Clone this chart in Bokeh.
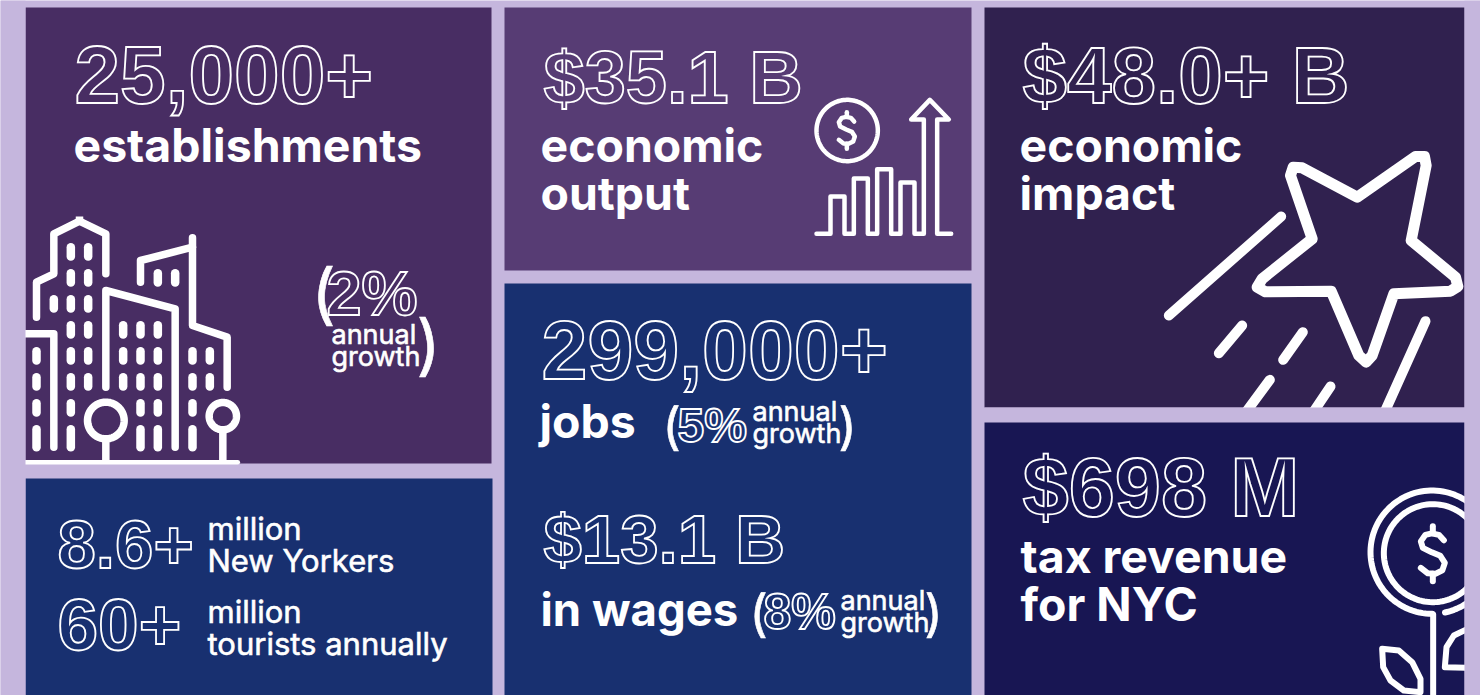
import numpy as np
from bokeh.plotting import figure
from bokeh.document import Document
from bokeh.models import Range1d, CustomJS
from bokeh.core.properties import value
from bokeh.embed import file_html
from bokeh.resources import INLINE

BG = "#c5b6dd"
headline_big = ["25,000+", "$35.1 B", "$48.0+ B", "299,000+", "$13.1 B", "$698 M"]
headline_small = ["8.6+", "60+", "2%", "5%", "8%"]
labels_main = ["establishments", "economic", "output", "economic", "impact", "jobs",
               "in wages", "tax revenue", "for NYC"]
labels_small = ["million", "New Yorkers", "million", "tourists annually"]
growth_word_1 = "annual"
growth_word_2 = "growth"

p = figure(width=1480, height=695, x_range=Range1d(0, 1480), y_range=Range1d(695, 0),
           output_backend="svg", toolbar_location=None, min_border=0,
           background_fill_color=BG, border_fill_color=BG, outline_line_color=None)
p.axis.visible = False
p.grid.visible = False

FONT = value("Inter")
FONT_OUT = value("Liberation Sans")
WHITE = "#ffffff"
K = 0.38
C_A, C_B, C_C, C_E, C_F = "#482d63", "#183070", "#573c74", "#30214f", "#181653"


def panel(x0, y0, x1, y1, c):
    p.quad(left=x0, right=x1, top=y0, bottom=y1, fill_color=c, line_color=None)


def poly(pts, ox, oy, lw, cap="round"):
    a = np.array(pts, dtype=float)
    p.line(a[:, 0] / 3 + ox, a[:, 1] / 3 + oy, line_color=WHITE, line_width=lw,
           line_cap=cap, line_join="round")


def ring(cx, cy, r, ox, oy, lw, a0=0, a1=360):
    t = np.radians(np.linspace(a0, a1, 120))
    poly(np.c_[cx + r * np.cos(t), cy + r * np.sin(t)], ox, oy, lw, "round")


def dollar(cx, cy, s, ox, oy, lw):
    S = [(22, -27), (12, -38), (-2, -41), (-15, -38), (-24, -25), (-20, -12), (-2, -3), (15, 4),
         (24, 18), (19, 33), (5, 40), (-10, 39), (-24, 28)]
    poly([(cx + s * a, cy + s * b) for a, b in S], ox, oy, lw)
    poly([(cx, cy - 55 * s), (cx, cy - 41 * s)], ox, oy, lw)
    poly([(cx, cy + 40 * s), (cx, cy + 55 * s)], ox, oy, lw)


def out(t, x, y, size, fill):
    p.text(x=[x], y=[y - K * size], text=[t], text_font=FONT_OUT, text_font_size=f"{size}px",
           text_color=fill, text_outline_color=WHITE, text_font_style="bold",
           text_baseline="alphabetic", text_align="left")


def sol(t, x, y, size, style="bold"):
    kw = {"text_outline_color": "#fffffe"} if style == "normal" else {}
    p.text(x=[x], y=[y - K * size], text=[t], text_font=FONT, text_font_size=f"{size}px",
           text_color=WHITE, text_font_style=style, text_baseline="alphabetic",
           text_align="left", **kw)


# panels
panel(25, 7, 491, 463, C_A)
panel(25, 478, 492, 700, C_B)
panel(504, 7, 971, 270, C_C)
panel(504, 283, 971, 700, C_B)
panel(984, 7, 1464, 407, C_E)

# building icon
o = (0, 190)
W = 7.5
poly([(108, 380), (108, 275), (160, 250), (160, 130), (237, 92), (316, 130), (316, 250)], *o, W)
poly([(237, 78), (237, 92)], *o, W, "butt")
poly([(420, 275), (420, 210), (576, 170)], *o, W)
poly([(576, 142), (576, 405), (680, 440), (680, 590)], *o, W)
poly([(316, 590), (316, 300), (524, 355), (524, 770)], *o, W)
poly([(60, 430), (160, 430), (160, 770)], *o, W)
rows = {
    (170, 198): [211, 263],
    (248, 276): [211, 263, 472, 524],
    (326, 354): [160, 211, 263],
    (404, 432): [211, 263, 368, 420, 472],
    (482, 510): [108, 211, 263, 368, 420, 472, 576, 628],
    (560, 588): [108, 211, 263, 368, 420, 472, 576, 628],
    (638, 666): [108, 211, 420, 472, 576],
    (716, 770): [108, 211, 420, 472, 576],
}
for (y0, y1), xs in rows.items():
    for x in xs:
        poly([(x, y0), (x, y1)], *o, 8.5)
ring(316, 690, 55, *o, W)
poly([(316, 748), (316, 815)], *o, W, "butt")
ring(667, 677, 41, *o, W)
poly([(667, 720), (667, 815)], *o, W, "butt")
poly([(75, 815), (712, 815)], *o, 4.5)

# chart icon
o = (780, 60)
ring(200, 210, 92, *o, 4.5)
dollar(199, 210, 1, *o, 4.5)
poly([(108, 520), (150, 520), (150, 408), (192, 408), (192, 520), (220, 520), (220, 354), (262, 354),
      (262, 520), (290, 520), (290, 326), (332, 326), (332, 520), (360, 520), (360, 366), (402, 366),
      (402, 520), (430, 520), (430, 177), (392, 177), (448, 118), (505, 177), (470, 177), (470, 520),
      (512, 520)], *o, 4.5)

# star icon
o = (1140, 130)
W = 11
poly([(515, 325), (450, 135), (458, 110), (485, 112), (650, 200), (825, 78), (852, 78), (857, 105),
      (812, 330), (945, 440), (952, 468), (930, 482), (760, 490), (695, 675), (677, 695), (655, 675),
      (572, 482), (375, 484), (350, 470), (365, 445), (515, 325)], *o, W)
poly([(85, 555), (422, 258)], *o, 10)
poly([(235, 668), (305, 585)], *o, 10)
poly([(428, 688), (487, 605)], *o, 10)
poly([(388, 748), (320, 840)], *o, 10)
poly([(570, 768), (515, 850)], *o, 10)
poly([(855, 572), (730, 850)], *o, 10)

panel(984, 407, 1480, 422, BG)
panel(984, 422, 1464, 700, C_F)

# flower icon
o = (1340, 470)
W = 6
ring(275, 245, 185, *o, W, 78, -270)
ring(277, 248, 147, *o, W)
dollar(277, 250, 1.5, *o, W)
poly([(278, 432), (278, 700)], *o, W)
poly([(125, 535), (175, 540), (215, 575), (240, 625), (240, 665), (190, 660), (150, 630), (128, 590),
      (125, 535)], *o, W)
poly([(375, 478), (340, 495), (318, 530), (313, 590), (375, 592)], *o, W)

# covers for icons running past the panels
panel(0, 0, 25, 700, BG)
panel(1464, 0, 1480, 700, BG)

# outlined figures
out(headline_big[0], 74, 105, 82, C_A)
out(headline_big[1], 543, 105, 74, C_C)
out(headline_big[2], 1022, 105, 80, C_E)
out(headline_big[3], 541, 381, 82.5, C_B)
out(headline_big[4], 543, 565, 69, C_B)
out(headline_big[5], 1022, 519, 83, C_F)
out(headline_small[0], 57, 570, 69, C_B)
out(headline_small[1], 57, 652, 73, C_B)
out(headline_small[2], 326, 316, 63, C_A)
out(headline_small[3], 677, 443, 48, C_B)
out(headline_small[4], 763, 630, 50, C_B)

# main labels
sol(labels_main[0], 73, 162, 46.4)
sol(labels_main[1], 540, 162, 46.4)
sol(labels_main[2], 540, 210, 46.4)
sol(labels_main[3], 1019, 162, 46.4)
sol(labels_main[4], 1019, 210, 46.4)
sol(labels_main[5], 539, 438, 46.4)
sol(labels_main[6], 540, 626, 45.5)
sol(labels_main[7], 1020, 573, 46.4)
sol(labels_main[8], 1020, 621, 46.4)

# small labels
sol(labels_small[0], 207, 540, 31, "normal")
sol(labels_small[1], 207, 572, 31, "normal")
sol(labels_small[2], 207, 623, 31, "normal")
sol(labels_small[3], 207, 655, 31, "normal")

# growth notes
for x, y1, y2 in [(331, 344, 366), (752, 421, 443), (840, 610, 632)]:
    sol(growth_word_1, x, y1, 27, "normal")
    sol(growth_word_2, x, y2, 27, "normal")
for t, x, y, s in [("(", 311, 318, 66), (")", 416, 369, 66), ("(", 662, 444, 50), (")", 838, 444, 50),
                   ("(", 749, 631, 50), (")", 924, 631, 50)]:
    sol(t, x, y, s, "normal")

# stroke widths of the outlined figures and of the medium-weight labels
doc = Document()
doc.add_root(p)
doc.js_on_event("document_ready", CustomJS(code="""
function walk(root){
  root.querySelectorAll('*').forEach(el=>{
    if(el.tagName==='text'){
      const s=(el.getAttribute('stroke')||'').toLowerCase().replace(/\\s/g,'');
      if(s.match(/#ffffff|rgb\\(255,255,255\\)/)) el.setAttribute('stroke-width','1.8');
      else if(s.match(/#fffffe|rgb\\(255,255,254\\)/)) el.setAttribute('stroke-width','0.6');
    }
    if(el.shadowRoot) walk(el.shadowRoot);
  });
}
let n=0; const h=setInterval(()=>{walk(document); if(++n>20) clearInterval(h);},100);
"""))

open("out.html", "w").write(file_html(p, INLINE))
